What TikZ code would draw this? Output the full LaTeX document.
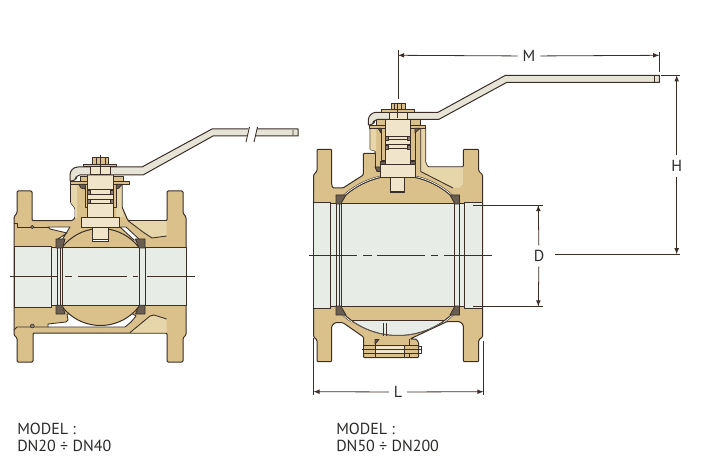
\documentclass[tikz,border=0pt]{standalone}
\usepackage{fontspec}
\setmainfont{PT Sans}
\usepackage{xcolor}
\usetikzlibrary{arrows,positioning}
\definecolor{bronze}{HTML}{DAC18C}
\definecolor{bronzelt}{HTML}{E7D6A9}
\definecolor{stemcol}{HTML}{F0E4CA}
\definecolor{borecol}{HTML}{E8ECE6}
\definecolor{levercol}{HTML}{E6E4D6}
\definecolor{seatcol}{HTML}{6A5E52}
\definecolor{linecol}{HTML}{3A2E27}
\definecolor{textcol}{HTML}{2B2A29}
\begin{document}
\begin{tikzpicture}[
x=0.75pt,y=-0.75pt,
line join=round,
cast/.style={
  draw=linecol,
  fill=#1,
  line width=0.75pt
  },
cast/.default=bronze,
soft/.style={
  fill=#1
  },
thin line/.style={
  draw=linecol,
  line width=0.65pt
  },
seat/.style={
  draw=linecol,
  fill=seatcol,
  line width=0.6pt
  },
ring/.style={
  draw=linecol,
  fill=seatcol!80,
  line width=0.4pt
  },
axis/.style={
  draw=linecol,
  line width=0.6pt
  },
gap/.style={
  draw=linecol,
  double=white,
  double distance=0.5pt,
  line width=0.4pt
  },
ar/.style={
  ->,
  >=latex,
  draw=linecol,
  line width=0.6pt
  },
ext/.style={
  draw=linecol,
  line width=0.6pt
  },
lab/.style={
  inner sep=3.5pt,
  font=\fontsize{12}{14}\selectfont,
  text=textcol
  },
capt/.style={
  inner sep=0pt,
  anchor=base west,
  font=\fontsize{12}{14}\selectfont,
  text=textcol
  }
]
\useasboundingbox (0,0) rectangle (710,463);

%The small valve
\path[cast,rounded corners=0.8pt] (17,191) -- (32,191) -- (32,220.7) -- (72,220.7) -- (75,218) -- (75,208)
  -- (70.7,203) -- (70.7,184) -- (122,184) -- (122,207) -- (128,220.7) -- (167,220.7) -- (167,191)
  -- (183,191) -- (183,213) -- (186,217) -- (186,335) -- (183,338) -- (183,362) -- (167,362)
  -- (167,333) -- (33,333) -- (33,362) -- (17,362) -- (17,338) -- (14,335) -- (14,217) -- (17,213) -- cycle;
\fill[soft=bronzelt] (128,221.2) -- (166.6,221.2) -- (166.6,236) -- (152,238) -- (143,232) -- cycle;
\fill[soft=bronzelt] (130,332.6) -- (150,316) -- (154,315) -- (166.6,319) -- (166.6,332.6) -- cycle;
\fill[soft=bronzelt] (71.2,184) -- (77,184) -- (77,218) -- (75,218) -- (75,208) -- (71.2,203) -- cycle;
\fill[soft=bronzelt] (116,184) -- (121.6,184) -- (121.6,207) -- (124,217) -- (116,217) -- cycle;
\draw[thin line] (128,220.7) -- (143,232) -- (152,238) -- (166.6,236);
\draw[thin line] (130,332.6) -- (150,316) -- (154,315) -- (166.6,319);
\draw[thin line,fill=white] (48,227) -- (70,227) -- (62,240) -- (58,239) -- (67,233) -- (50,229) -- cycle;
\draw[thin line,fill=white] (120,227) -- (126,227) -- (140,240) -- (134,240) -- cycle;
\draw[thin line,fill=white] (67,314) -- (68,320) -- (66,322) -- (48,324) -- (48,327) -- (125,327) -- (131,322) -- (136,316) -- (133,314) -- cycle;
\draw[thin line] (14,223) -- (17,223) -- (17,227) -- (48,227);
\draw[thin line] (14,330) -- (17,327) -- (48,327);
\draw[ring] (32.3,326) circle (2);
\draw[ring] (32.3,227) circle (1.8);

\path[cast=borecol] (51,248) rectangle (186,305);
\path[cast=borecol] (14,246.7) rectangle (51,307);
\begin{scope}
  \clip (40,200) rectangle (160,248) (40,305.5) rectangle (160,340);
  \draw[cast] (100.5,277) circle (48.5);
\end{scope}
\path[cast=borecol] (62.5,248) rectangle (139,305.5);
\draw[thin line] (57,248) -- (57,305) (60.7,248) -- (60.7,305) (145,248) -- (145,305);
\path[seat] (56,239) -- (65,239) -- (62.5,248) -- (56,248) -- cycle;
\path[seat] (135.5,239) -- (145,239) -- (145,248) -- (139,248) -- cycle;
\path[seat] (56,305.3) -- (62.5,305.3) -- (65,314) -- (56,314) -- cycle;
\path[seat] (139,305.3) -- (145,305.3) -- (145,314) -- (135.5,314) -- cycle;

\path[cast=stemcol] (92.7,225) rectangle (108,242);
\path[cast=white] (92.7,240) rectangle (108,242);
\path[cast=stemcol] (81.3,217.3) rectangle (119.3,227.3);
\path[cast] (85.3,181) rectangle (87.7,208);
\path[cast] (113,181) rectangle (116.3,208);
\path[cast=stemcol] (87.7,175) rectangle (113,217.3);
\path[cast] (80,177) rectangle (87.7,181.3);
\path[cast] (113,177) rectangle (123,181.3);
\path[cast] (70,181.3) rectangle (87.7,184.3);
\path[cast] (113,181.3) rectangle (129.7,184.3);
\path[seat] (79,184.3) -- (85.3,184.3) -- (85.3,189) -- (81,188) -- cycle;
\path[seat] (116.3,184.3) -- (122,184.3) -- (119,188) -- (116.3,189) -- cycle;
\foreach \ytop/\ybot in {190/194.3,199.7/203.3}{
  \path[cast=stemcol] (87.7,\ytop) rectangle (113,\ybot);
  \path[ring] (87.7,\ytop) rectangle (90.3,\ybot);
  \path[ring] (110.7,\ytop) rectangle (113,\ybot);
}
\path[cast=levercol] (70,181) [rounded corners=6pt] -- (70,167) [sharp corners] -- (142,167) -- (212,129)
  -- (298,129) -- (298,136) -- (213,136) -- (143,175) [rounded corners=3pt] -- (76,175) -- (76,181) [sharp corners] -- cycle;
\draw[fill=white,draw=white] (249.3,126.5) -- (257.3,126.5) -- (254,142) -- (246,142) -- cycle;
\draw[thin line] (249.5,127) -- (246,142) (257.5,127) -- (254,142) (293,130) -- (293,135);
\path[cast=stemcol] (90.3,167) rectangle (110,175);
\path[cast] (83.3,165) rectangle (116.7,167);
\path[cast] (92.5,158) rectangle (108.5,165);
\draw[thin line] (96,158) -- (96,165) (105,158) -- (105,165);
\draw[axis] (100.3,155) -- (100.3,175);
\draw[axis] (10,276) -- (58,276) (65,276) -- (72,276) (78,276) -- (127,276) (133,276) -- (138,276) (147,276) -- (195,276);

%The big valve
\path[cast,rounded corners=0.8pt] (317,149.3) -- (331.7,149.3) -- (331.7,185) -- (333,188) -- (343,188)
  -- (363.3,175) -- (363.3,153.3) -- (375.7,153.3) -- (375.7,151) -- (370,149.5) -- (370,128)
  -- (425.7,128) -- (425.7,163) -- (428,167) -- (463.3,167) -- (463.3,149.3) -- (478.7,149.3)
  -- (478.7,171) -- (482.7,175) -- (482.7,336.7) -- (478.7,340) -- (478.7,361.7) -- (463.3,361.7)
  -- (463.3,325) -- (460,321.7) -- (446.7,321.7) -- (410,339) -- (416,339) -- (418.5,342) -- (418.5,357.7) -- (363.5,357.7)
  -- (363.5,337) -- (343,322.7) -- (335,322.7) -- (331.7,326) -- (331.7,361.7) -- (317,361.7)
  -- (317,340) -- (313.5,336.7) -- (313.5,175) -- (317,171) -- cycle;
\fill[soft=bronzelt] (420.7,128.4) -- (425.3,128.4) -- (425.3,163) -- (428,167.4) -- (462.9,167.4)
  -- (462.9,184) -- (460,187.6) -- (453,187.6) -- (420.7,171.5) -- cycle;
\fill[soft=bronzelt] (370.4,128.4) -- (376,128.4) -- (376,163) -- (375.7,163) -- (375.7,151) -- (370.4,149.5) -- cycle;
\draw[thin line] (420.7,128) -- (420.7,171.5) -- (453,188);
\draw[thin line] (375.7,153.3) -- (375.7,168);
\path[seat] (375,167) -- (380.7,167) -- (380.7,171.5) -- (377,171.5) -- cycle;

\path[cast=borecol] (330.7,204) rectangle (464.3,306);
\path[cast=borecol] (313.5,202.5) rectangle (330.7,308.3);
\path[cast=borecol] (464.3,202.5) rectangle (482.7,308.3);
\begin{scope}
  \clip (320,165) rectangle (476,204) (320,306) rectangle (476,345);
  \draw[cast] (398,255.5) circle (80);
  \clip (398,255.5) circle (80);
  \path[cast=borecol] (340,320.3) rectangle (456,345);
  \draw[cast,fill=none] (398,255.5) circle (80);
\end{scope}
\begin{scope}
  \clip (340,165) rectangle (382,204) (414,165) rectangle (456,204)
    (340,306) rectangle (456,322);
  \draw[gap] (398,255.5) circle (80.8);
\end{scope}
\path[cast=borecol] (341.7,204) rectangle (454.7,306);
\draw[thin line] (336,204) -- (336,306) (339,204) -- (339,306) (459.5,204) -- (459.5,306);
\path[seat] (336,195) -- (346,195) -- (340.7,204) -- (336,204) -- cycle;
\path[seat] (450,195) -- (459.5,195) -- (459.5,204) -- (455,204) -- cycle;
\path[seat] (336,306) -- (340.7,306) -- (346,315) -- (336,315) -- cycle;
\path[seat] (455,306) -- (459.5,306) -- (459.5,315) -- (450,315) -- cycle;
\draw[thin line] (383.3,323) -- (383.3,336) (386.5,323) -- (386.5,336);

%The bolt under the big valve
\path[cast=stemcol] (363.5,345) rectangle (418.5,353.3);
\draw[thin line] (375,340) -- (375,357.7) (404,345) -- (404,357.7) (409,339) -- (409,357.7);
\path[seat] (375,339.5) -- (379,339.5) -- (375,344) -- cycle;
\path[cast] (363.5,345) rectangle (375,353.3);
\path[cast] (404,345) rectangle (418.5,353.3);
\draw[axis] (362,349.3) -- (422,349.3);
\draw[thin line] (418.5,346) -- (421,346) -- (421,353) -- (418.5,353);

\path[cast=stemcol] (390.7,175) rectangle (404.7,193);
\path[cast=white] (390.7,191.5) rectangle (404.7,193);
\path[cast=stemcol] (380.7,164.5) rectangle (415,178);
\path[seat] (380.7,161) rectangle (386,164.5);
\path[seat] (409.7,161) rectangle (415,164.5);
\path[cast] (381,122) rectangle (385.7,161);
\path[cast] (410,122) rectangle (415,161);
\path[cast=stemcol] (385.7,119.3) rectangle (410,164.5);
\path[cast] (376.7,120) rectangle (385.7,125.7);
\path[cast] (410,120) rectangle (420,125.7);
\path[cast] (369,125.7) rectangle (385.7,128.3);
\path[cast] (410,125.7) rectangle (425.7,128.3);
\path[seat] (378,128.3) -- (381,128.3) -- (381,133) -- cycle;
\path[seat] (415,128.3) -- (420,128.3) -- (415,133) -- cycle;
\foreach \ytop/\ybot in {136.7/140,145/149}{
  \path[cast=stemcol] (385.7,\ytop) rectangle (410,\ybot);
  \path[ring] (385.7,\ytop) rectangle (388.3,\ybot);
  \path[ring] (407.3,\ytop) rectangle (410,\ybot);
}
\path[cast=levercol] (368.3,125) [rounded corners=6pt] -- (368.3,112.3) [sharp corners] -- (438,112.3) -- (505.5,75.3)
  -- (659.3,75.3) -- (659.3,82.5) -- (506.5,82.5) -- (439,119.3) [rounded corners=3pt] -- (373.8,119.3) -- (373.8,125) [sharp corners] -- cycle;
\draw[thin line] (654.3,76) -- (654.3,82);
\path[cast=stemcol] (389,112.3) rectangle (407,119.3);
\path[cast] (381,110) rectangle (414,112.3);
\path[cast] (391,104) rectangle (405,110);
\draw[thin line] (394.5,104) -- (394.5,110) (401.5,104) -- (401.5,110);
\draw[axis] (397.8,103) -- (397.8,118);
\draw[axis] (309,255.5) -- (357,255.5) (363,255.5) -- (372,255.5) (377,255.5) -- (425,255.5) (431,255.5) -- (438,255.5) (444,255.5) -- (492,255.5);

%The nodes for the dimensions
\node[lab] (Mlab) at (529,56) {M};
\node[lab] (Hlab) at (676.7,166) {H};
\node[lab] (Dlab) at (539,256) {D};
\node[lab] (Llab) at (398,392) {L};
\coordinate (Mleft) at (398,55.3);
\coordinate (Mright) at (659.3,55.3);
\coordinate (Htop) at (676.7,75.3);
\coordinate (Hbot) at (676.7,254.3);
\coordinate (Dtop) at (538.3,205);
\coordinate (Dbot) at (538.3,306.5);
\coordinate (Lleft) at (313.5,391.7);
\coordinate (Lright) at (483.5,391.7);

\draw[ar] (Mlab) -- (Mleft);
\draw[ar] (Mlab) -- (Mright);
\draw[ar] (Hlab) -- (Htop);
\draw[ar] (Hlab) -- (Hbot);
\draw[ar] (Dlab) -- (Dtop);
\draw[ar] (Dlab) -- (Dbot);
\draw[ar] (Llab) -- (Lleft);
\draw[ar] (Llab) -- (Lright);

\draw[ext] (398,50) -- (398,99);
\draw[ext] (659.3,52) -- (659.3,72);
\draw[ext] (661,75.3) -- (680,75.3);
\draw[ext] (555,254.3) -- (680,254.3);
\draw[ext] (473,205) -- (543,205);
\draw[ext] (473,306.5) -- (543,306.5);
\draw[ext] (313.5,338) -- (313.5,395);
\draw[ext] (483.5,341) -- (483.5,395);

%The captions
\node[capt] (model1) at (17,434) {MODEL :};
\node[capt] (dn1) at (17,451.7) {DN20 ÷ DN40};
\node[capt] (model2) at (336,434) {MODEL :};
\node[capt] (dn2) at (336,451.7) {DN50 ÷ DN200};

\end{tikzpicture}
\end{document}
